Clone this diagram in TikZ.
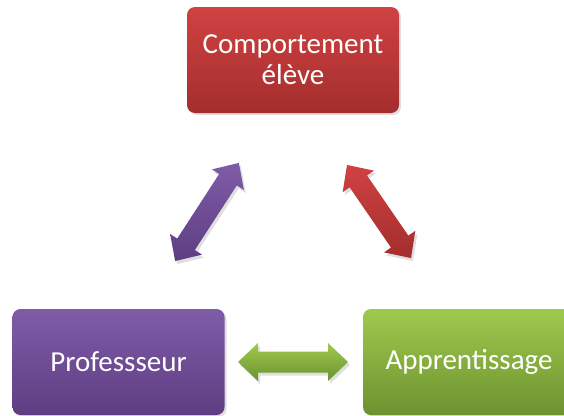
\documentclass[tikz,border=0pt]{standalone}
\usepackage{fontspec}
\setmainfont{Carlito}
\usetikzlibrary{shadows}
\definecolor{redT}{HTML}{D04242}
\definecolor{redB}{HTML}{A42D2D}
\definecolor{purT}{HTML}{7F5CA8}
\definecolor{purB}{HTML}{5E3E82}
\definecolor{grnT}{HTML}{9FCA4D}
\definecolor{grnB}{HTML}{6C9230}
\tikzset{
  boxst/.style={rounded corners=8pt, minimum width=212pt, minimum height=106pt,
    inner sep=0pt, text=white, align=center,
    font=\fontsize{29}{31}\selectfont,
    drop shadow={opacity=0.25, shadow xshift=2pt, shadow yshift=-2pt}},
  arrst/.style={drop shadow={opacity=0.25, shadow xshift=2pt, shadow yshift=-3pt}}
}
\newcommand{\blockarrow}[3]{% length, top color, bottom color
  \path[arrst, top color=#2, bottom color=#3]
    (-#1/2,0) -- (-#1/2+20,19) -- (-#1/2+20,10.5) -- (#1/2-20,10.5) -- (#1/2-20,19)
    -- (#1/2,0) -- (#1/2-20,-19) -- (#1/2-20,-10.5) -- (-#1/2+20,-10.5) -- (-#1/2+20,-19) -- cycle;}
\begin{document}
\begin{tikzpicture}[x=1pt,y=-1pt]
\useasboundingbox (0,0) rectangle (564,415);
\node[boxst, top color=redT, bottom color=redB] (comp) at (293,60) {Comportement\\élève};
\node[boxst, top color=purT, bottom color=purB] (prof) at (118.5,362) {Professseur};
\node[boxst, top color=grnT, bottom color=grnB] (app) at (469,362) {Apprentissage};
\coordinate (pa) at (207,212);
\coordinate (ra) at (379,211.5);
\coordinate (ga) at (293,362);
\begin{scope}[shift={(pa)}, rotate=57]
  \blockarrow{117}{purT}{purB}
\end{scope}
\begin{scope}[shift={(ra)}, rotate=-55.5]
  \blockarrow{113}{redT}{redB}
\end{scope}
\begin{scope}[shift={(ga)}]
  \blockarrow{110}{grnT}{grnB}
\end{scope}
\end{tikzpicture}
\end{document}
